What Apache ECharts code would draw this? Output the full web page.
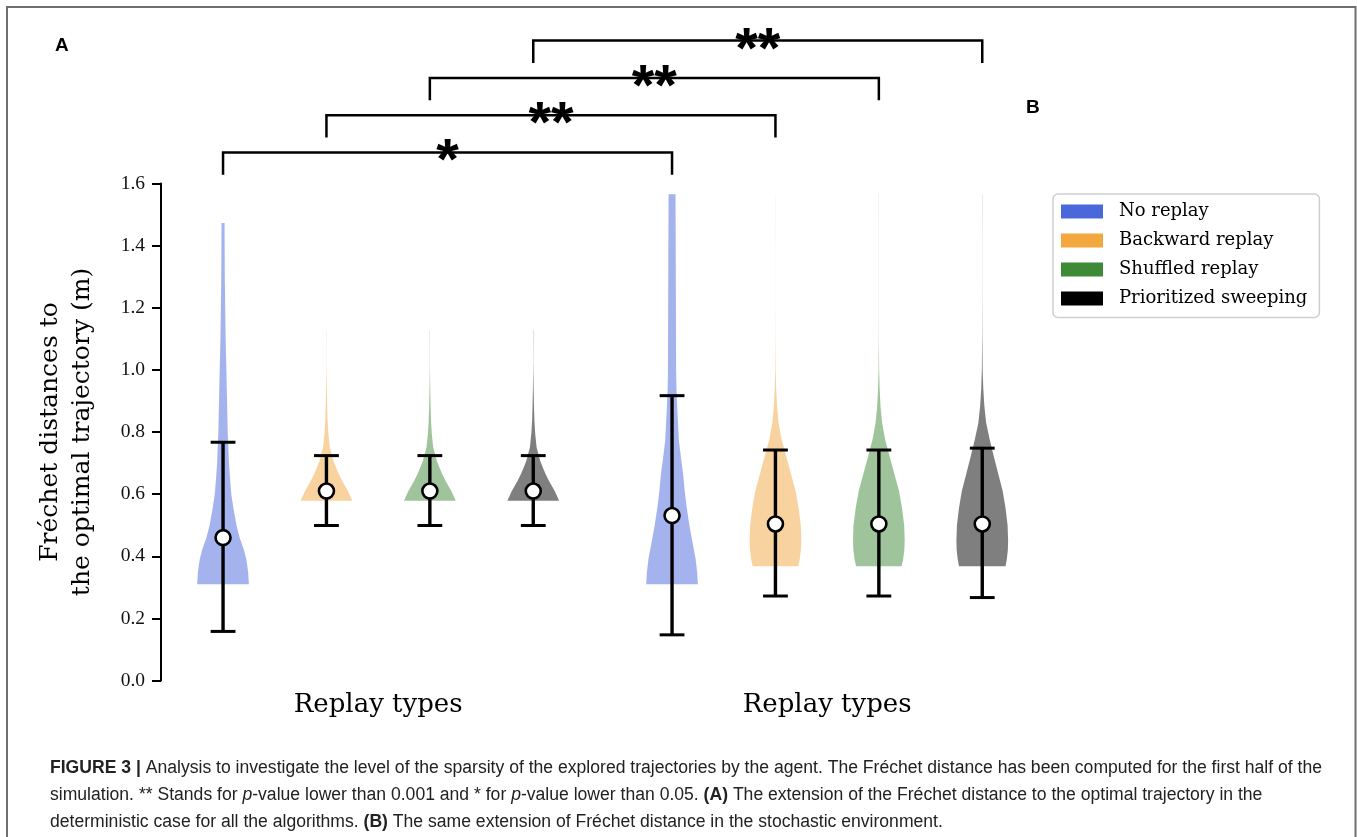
<!DOCTYPE html>
<html>
<head>
<meta charset="utf-8">
<script src="https://cdn.jsdelivr.net/npm/echarts@6/dist/echarts.min.js"></script>
<style>
  html, body { margin: 0; padding: 0; background: #fff; }
  #chart { width: 1357px; height: 837px; }
</style>
</head>
<body>
<div id="chart"></div>
<script>
// ---- data ---------------------------------------------------------------
const replayTypes = ['No replay', 'Backward replay', 'Shuffled replay', 'Prioritized sweeping'];
const typeColors = ['#4a68dc', '#f2a73f', '#3f8a37', '#000000'];
const panelLabels = ['A', 'B'];
const axisTitle = 'Replay types';
const yTitle = 'Fréchet distances to\nthe optimal trajectory (m)';

// error bars: lower / upper whisker and mean, deterministic case (A)
const detLower = [0.158, 0.499, 0.499, 0.499];
const detUpper = [0.767, 0.724, 0.724, 0.724];
const detMean  = [0.460, 0.610, 0.610, 0.610];
// stochastic case (B)
const stoLower = [0.147, 0.272, 0.272, 0.267];
const stoUpper = [0.917, 0.742, 0.742, 0.748];
const stoMean  = [0.531, 0.504, 0.504, 0.504];

// kernel density profiles: [distance (m), relative density]
const detNoReplay = [[0.31,1.0],[0.35,0.97],[0.39,0.90],[0.42,0.81],[0.46,0.64],[0.50,0.52],[0.555,0.40],[0.60,0.32],[0.65,0.27],[0.70,0.23],[0.80,0.18],[0.90,0.155],[1.00,0.13],[1.10,0.10],[1.30,0.068],[1.473,0.058]];
const detBackward = [[0.579,1.0],[0.59,0.94],[0.609,0.835],[0.642,0.61],[0.664,0.48],[0.686,0.37],[0.707,0.27],[0.729,0.20],[0.75,0.13],[0.794,0.075],[0.837,0.045],[0.882,0.028],[0.936,0.015],[0.99,0.006],[1.03,0.003],[1.074,0.004],[1.128,0.005]];
const detShuffled = [[0.579,1.0],[0.59,0.94],[0.609,0.835],[0.642,0.61],[0.664,0.48],[0.686,0.37],[0.707,0.27],[0.729,0.20],[0.75,0.13],[0.794,0.075],[0.837,0.045],[0.882,0.028],[0.936,0.015],[0.99,0.006],[1.03,0.003],[1.074,0.004],[1.128,0.005]];
const detPrioritized = [[0.579,1.0],[0.59,0.94],[0.609,0.835],[0.642,0.61],[0.664,0.48],[0.686,0.37],[0.707,0.27],[0.729,0.20],[0.75,0.13],[0.794,0.075],[0.837,0.045],[0.882,0.028],[0.936,0.015],[0.99,0.006],[1.03,0.003],[1.074,0.004],[1.128,0.005]];
const stoNoReplay = [[0.31,1.0],[0.35,0.97],[0.392,0.91],[0.446,0.79],[0.50,0.67],[0.555,0.57],[0.61,0.49],[0.664,0.43],[0.72,0.34],[0.773,0.265],[0.83,0.23],[0.88,0.20],[0.94,0.17],[1.00,0.158],[1.20,0.15],[1.40,0.142],[1.565,0.134]];
const stoBackward = [[0.368,0.88],[0.39,0.94],[0.42,0.985],[0.45,1.0],[0.50,0.98],[0.555,0.895],[0.61,0.78],[0.665,0.60],[0.72,0.42],[0.775,0.24],[0.83,0.12],[0.885,0.06],[0.94,0.028],[1.0,0.01],[1.1,0.004],[1.2,0.002],[1.3,0.002],[1.4,0.002],[1.5,0.003],[1.565,0.003]];
const stoShuffled = [[0.368,0.88],[0.39,0.94],[0.42,0.985],[0.45,1.0],[0.50,0.98],[0.555,0.895],[0.61,0.78],[0.665,0.60],[0.72,0.42],[0.775,0.245],[0.83,0.125],[0.885,0.062],[0.94,0.03],[1.0,0.011],[1.1,0.004],[1.2,0.002],[1.3,0.002],[1.4,0.002],[1.5,0.003],[1.565,0.003]];
const stoPrioritized = [[0.368,0.90],[0.39,0.95],[0.42,0.99],[0.45,1.0],[0.50,0.98],[0.555,0.90],[0.61,0.79],[0.665,0.62],[0.72,0.45],[0.775,0.29],[0.83,0.15],[0.885,0.08],[0.94,0.04],[1.0,0.016],[1.1,0.006],[1.2,0.003],[1.3,0.002],[1.4,0.002],[1.5,0.003],[1.565,0.003]];

// pairwise comparisons A vs B for each replay type, with significance marks
const comparisonTypes = [0, 1, 2, 3];
const significance = ['*', '**', '**', '**'];

const captionLines = [
  [['b', 'FIGURE 3 |'], ['', ' Analysis to investigate the level of the sparsity of the explored trajectories by the agent. The Fréchet distance has been computed for the first half of the']],
  [['', 'simulation. ** Stands for '], ['i', 'p'], ['', '-value lower than 0.001 and * for '], ['i', 'p'], ['', '-value lower than 0.05. '], ['b', '(A)'], ['', ' The extension of the Fréchet distance to the optimal trajectory in the']],
  [['', 'deterministic case for all the algorithms. '], ['b', '(B)'], ['', ' The same extension of Fréchet distance in the stochastic environment.']]
];

// ---- layout / style -------------------------------------------------------
const profiles = [
  [detNoReplay, detBackward, detShuffled, detPrioritized],
  [stoNoReplay, stoBackward, stoShuffled, stoPrioritized]
];
const lowers = [detLower, stoLower];
const uppers = [detUpper, stoUpper];
const means = [detMean, stoMean];

const SERIF = '"DejaVu Serif", serif';
const TICK_SERIF = '"Liberation Serif", serif';
const SANS = '"Liberation Sans", Arial, sans-serif';
const HALF = 0.25;      // violin half width (x units)
const CAP = 0.12;       // whisker cap half width (x units)
const PLOT_TOP = 183.5, PLOT_H = 497;
const GRID_W = 434.3;
const gridLefts = [161, 610];

const chart = echarts.init(document.getElementById('chart'));

function makeXAxis(g) {
  return {
    type: 'value', gridIndex: g, min: 0.4, max: 4.6,
    axisLine: { show: false }, axisTick: { show: false },
    axisLabel: { show: false }, splitLine: { show: false },
    name: axisTitle, nameLocation: 'middle', nameGap: 12,
    nameTextStyle: { fontFamily: SERIF, fontSize: 26, color: '#000' }
  };
}
function makeYAxis(g) {
  return {
    type: 'value', gridIndex: g, min: 0, max: 1.6, interval: 0.2,
    show: g === 0,
    axisLine: { show: true, lineStyle: { color: '#000', width: 2 } },
    axisTick: { show: true, length: 9, lineStyle: { color: '#000', width: 2 } },
    axisLabel: { margin: 16, fontFamily: TICK_SERIF, fontSize: 19.5, color: '#111',
                 formatter: v => v.toFixed(1) },
    splitLine: { show: false },
    name: g === 0 ? yTitle : '', nameLocation: 'middle', nameGap: 63, nameRotate: 90,
    nameTextStyle: { fontFamily: SERIF, fontSize: 25, lineHeight: 32, color: '#000', align: 'center' }
  };
}

const series = [];
[0, 1].forEach(g => {
  replayTypes.forEach((name, t) => {
    const prof = profiles[g][t];
    series.push({
      type: 'custom', name, xAxisIndex: g, yAxisIndex: g, silent: true, z: 2, clip: false,
      itemStyle: { color: typeColors[t] },
      data: [[t + 1]],
      renderItem: (params, api) => {
        const pos = api.value(0);
        const right = prof.map(([v, d]) => api.coord([pos + d * HALF, v]));
        const left = prof.slice().reverse().map(([v, d]) => api.coord([pos - d * HALF, v]));
        return { type: 'polygon', shape: { points: right.concat(left) },
                 style: { fill: typeColors[t], opacity: 0.5 } };
      }
    });
  });
  series.push({
    type: 'custom', xAxisIndex: g, yAxisIndex: g, silent: true, z: 3, clip: false,
    data: lowers[g].map((lo, i) => [i + 1, lo, uppers[g][i]]),
    renderItem: (params, api) => {
      const x = api.value(0);
      const lo = api.coord([x, api.value(1)]);
      const hi = api.coord([x, api.value(2)]);
      const cl = api.coord([x - CAP, api.value(1)])[0];
      const cr = api.coord([x + CAP, api.value(1)])[0];
      return { type: 'group', children: [
        { type: 'line', shape: { x1: lo[0], y1: lo[1], x2: hi[0], y2: hi[1] }, style: { stroke: '#000', lineWidth: 3.4 } },
        { type: 'line', shape: { x1: cl, y1: lo[1], x2: cr, y2: lo[1] }, style: { stroke: '#000', lineWidth: 3 } },
        { type: 'line', shape: { x1: cl, y1: hi[1], x2: cr, y2: hi[1] }, style: { stroke: '#000', lineWidth: 3 } }
      ] };
    }
  });
  series.push({
    type: 'scatter', xAxisIndex: g, yAxisIndex: g, silent: true, z: 4,
    symbol: 'circle', symbolSize: 15,
    itemStyle: { color: '#fff', borderColor: '#000', borderWidth: 2.6, opacity: 1 },
    data: means[g].map((m, i) => [i + 1, m])
  });
});

chart.setOption({
  animation: false,
  backgroundColor: '#fff',
  grid: gridLefts.map(l => ({ left: l, top: PLOT_TOP, width: GRID_W, height: PLOT_H })),
  xAxis: [makeXAxis(0), makeXAxis(1)],
  yAxis: [makeYAxis(0), makeYAxis(1)],
  legend: {
    orient: 'vertical', left: 1053, top: 194, selectedMode: false,
    backgroundColor: '#fff', borderColor: '#cfcfcf', borderWidth: 1.5, borderRadius: 5,
    padding: [7.5, 12, 9, 8], itemGap: 9, itemWidth: 42, itemHeight: 14,
    textStyle: { fontFamily: SERIF, fontSize: 18, color: '#000', lineHeight: 20, padding: [0, 0, 0, 11] },
    data: replayTypes.map((n, i) => ({ name: n, icon: 'rect', itemStyle: { color: typeColors[i], opacity: 1, borderWidth: 0 } }))
  },
  series
});

// ---- annotations: frame, panel letters, comparison brackets, caption -------
const graphics = [];
graphics.push({ type: 'polyline', silent: true,
  shape: { points: [[7, 845], [7, 7], [1355.5, 7], [1355.5, 845]] },
  style: { stroke: '#6e6e6e', lineWidth: 2, fill: null } });
graphics.push({ type: 'text', x: 55, y: 46, silent: true,
  style: { text: panelLabels[0], font: 'bold 19px ' + SANS, fill: '#000', textVerticalAlign: 'middle' } });
graphics.push({ type: 'text', x: 1026, y: 107.5, silent: true,
  style: { text: panelLabels[1], font: 'bold 19px ' + SANS, fill: '#000', textVerticalAlign: 'middle' } });

comparisonTypes.forEach((t, k) => {
  const level = 1.70 + 0.12 * k;
  const drop = level - 0.072;
  const a0 = chart.convertToPixel({ xAxisIndex: 0, yAxisIndex: 0 }, [t + 1, level]);
  const a1 = chart.convertToPixel({ xAxisIndex: 0, yAxisIndex: 0 }, [t + 1, drop]);
  const b0 = chart.convertToPixel({ xAxisIndex: 1, yAxisIndex: 1 }, [t + 1, level]);
  const b1 = chart.convertToPixel({ xAxisIndex: 1, yAxisIndex: 1 }, [t + 1, drop]);
  graphics.push({ type: 'polyline', silent: true,
    shape: { points: [a1, a0, b0, b1] },
    style: { stroke: '#000', lineWidth: 2.5, fill: null } });
  graphics.push({ type: 'text', silent: true, x: (a0[0] + b0[0]) / 2, y: a0[1] + 11,
    style: { text: significance[k], font: 'bold 58px ' + SANS, fill: '#000',
             textAlign: 'center', textVerticalAlign: 'middle' } });
});

// caption, condensed horizontally to the printed line width
const CAP_SIZE = 18;
const capFonts = {
  '': CAP_SIZE + 'px ' + SANS,
  b: 'bold ' + CAP_SIZE + 'px ' + SANS,
  i: 'italic ' + CAP_SIZE + 'px ' + SANS
};
const ctx = document.createElement('canvas').getContext('2d');
function lineWidth(segs) {
  return segs.reduce((w, [s, t]) => { ctx.font = capFonts[s]; return w + ctx.measureText(t).width; }, 0);
}
const CAP_X = 50, CAP_W = 1272;
const capScale = CAP_W / lineWidth(captionLines[0]);
const capY = [768, 795, 822];
captionLines.forEach((segs, li) => {
  const text = segs.map(([s, t]) => s ? '{' + s + '|' + t + '}' : t).join('');
  graphics.push({ type: 'text', silent: true, x: CAP_X, y: capY[li], scaleX: capScale, originX: 0,
    style: { text, font: capFonts[''], fill: '#222', textVerticalAlign: 'middle',
      rich: {
        b: { fontFamily: SANS, fontWeight: 'bold', fontSize: CAP_SIZE, fill: '#222' },
        i: { fontFamily: SANS, fontStyle: 'italic', fontSize: CAP_SIZE, fill: '#222' }
      } } });
});

chart.setOption({ graphic: graphics });
</script>
</body>
</html>
